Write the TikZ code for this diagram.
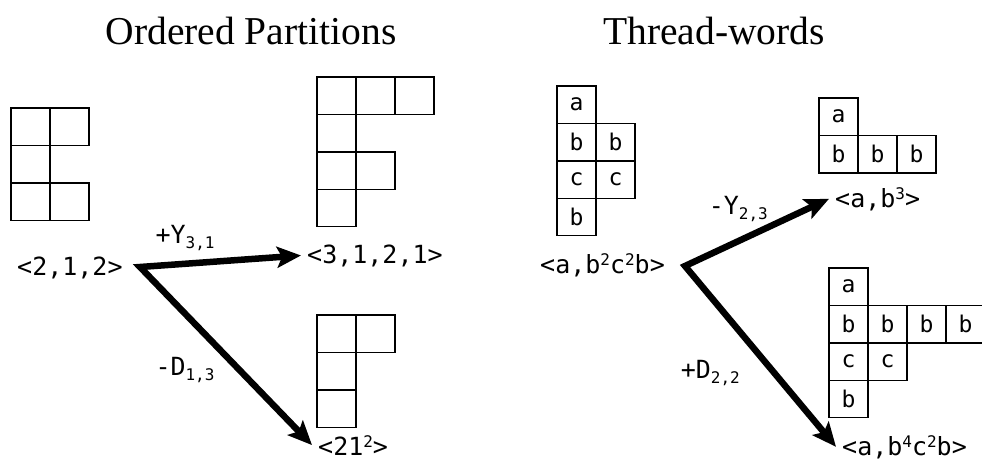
\documentclass[tikz,border=0pt]{standalone}
\usepackage{fontspec}
\setmainfont{Liberation Serif}
\newfontfamily\monofont{DejaVu Sans Mono}
\usetikzlibrary{arrows.meta}

\newcommand\wsup[1]{\raisebox{8pt}{\fontsize{16}{16}\selectfont #1}}
\newcommand\wsub[1]{\raisebox{-5pt}{\fontsize{16}{16}\selectfont #1}}

\begin{document}
\begin{tikzpicture}[x=1pt,y=-1pt,>={Stealth[length=24pt,width=21pt,inset=5pt]},
                    cell/.style={draw,line width=1.4pt,minimum width=39pt,minimum height=37.4pt,
                                 inner sep=0pt,font=\monofont\fontsize{23}{23}\selectfont},
                    word/.style={anchor=base west,inner xsep=6pt,inner ysep=2pt,
                                 font=\monofont\fontsize{25}{30}\selectfont},
                    tag/.style={inner sep=2pt,font=\monofont\fontsize{25}{30}\selectfont},
                    move/.style={<->,line width=6.5pt,miter limit=20},
                    title/.style={anchor=base,font=\fontsize{39.5}{44}\selectfont}]
  \useasboundingbox (0,0) rectangle (982,460);
  \clip (0,0) rectangle (982,460);

  \node[title] (tOP) at (251,45) {Ordered Partitions};
  \node[title] (tTW) at (714,45) {Thread-words};

  % ordered partitions
  \coordinate (P1) at (11,108);
  \coordinate (P2) at (317,77);
  \coordinate (P3) at (317,315);
  \foreach \c/\r in {0/0,1/0,0/1,0/2,1/2}
    \node[cell] (p1-\c\r) at ([shift={(\c*39+19.5,\r*37.4+18.7)}]P1) {};
  \foreach \c/\r in {0/0,1/0,2/0,0/1,0/2,1/2,0/3}
    \node[cell] (p2-\c\r) at ([shift={(\c*39+19.5,\r*37.4+18.7)}]P2) {};
  \foreach \c/\r in {0/0,1/0,0/1,0/2}
    \node[cell] (p3-\c\r) at ([shift={(\c*39+19.5,\r*37.4+18.7)}]P3) {};

  \node[word] (w212)  at (11,275)  {<2,1,2>};
  \node[word] (w3121) at (301,263) {<3,1,2,1>};
  \node[word] (w21sq) at (312,455) {<21\wsup{2}>};

  % thread-words
  \coordinate (T1) at (557,86);
  \coordinate (T2) at (819,98);
  \coordinate (T3) at (829,268);
  \foreach \c/\r/\t in {0/0/a,0/1/b,1/1/b,0/2/c,1/2/c,0/3/b}
    \node[cell] (t1-\c\r) at ([shift={(\c*39+19.5,\r*37.4+18.7)}]T1) {\t};
  \foreach \c/\r/\t in {0/0/a,0/1/b,1/1/b,2/1/b}
    \node[cell] (t2-\c\r) at ([shift={(\c*39+19.5,\r*37.4+18.7)}]T2) {\t};
  \foreach \c/\r/\t in {0/0/a,0/1/b,1/1/b,2/1/b,3/1/b,0/2/c,1/2/c,0/3/b}
    \node[cell] (t3-\c\r) at ([shift={(\c*39+19.5,\r*37.4+18.7)}]T3) {\t};

  \node[word] (tw1) at (534,273) {<a,b\wsup{2}c\wsup{2}b>};
  \node[word] (tw2) at (829,207) {<a,b\wsup{3}>};
  \node[word] (tw3) at (836,455) {<a,b\wsup{4}c\wsup{2}b>};

  \coordinate (fork1) at (140,267);
  \coordinate (fork2) at (685,266);

  % both moves leave from the fork as one bent line
  \draw[move] (w3121.west) -- node[tag,pos=0.72,above=8pt]  (lY31) {+Y\wsub{3,1}} (fork1)
                           -- node[tag,pos=0.58,left=20pt]  (lD13) {-D\wsub{1,3}} (w21sq.west);
  \draw[move] (tw2.west)   -- node[tag,pos=0.63,above=14pt] (lY23) {-Y\wsub{2,3}} (fork2)
                           -- node[tag,pos=0.59,left=29pt]  (lD22) {+D\wsub{2,2}} (tw3.west);
\end{tikzpicture}
\end{document}
